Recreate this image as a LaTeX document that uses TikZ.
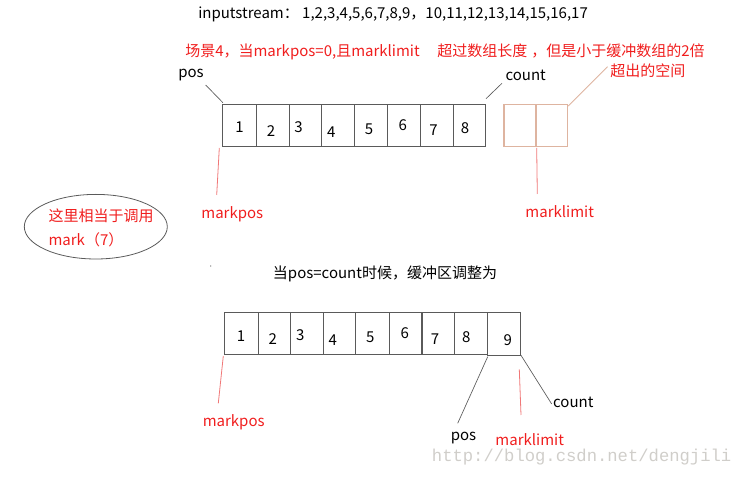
\documentclass[tikz,border=0pt]{standalone}
\usepackage{fontspec}
\setmainfont{Noto Sans CJK SC}
\newfontfamily\wmfont{Liberation Mono}
\definecolor{myred}{RGB}{240,30,30}
\definecolor{linered}{RGB}{240,120,120}
\definecolor{boxgray}{RGB}{90,90,90}
\definecolor{orangebox}{RGB}{222,180,160}
\definecolor{wmgray}{RGB}{208,206,202}
\begin{document}
\begin{tikzpicture}[x=0.75pt,y=-0.75pt,
  txt/.style={inner sep=0pt, text height=0.7em, text depth=0.2em, font=\fontsize{11.25}{13}\selectfont},
  redtxt/.style={txt, text=myred},
  num/.style={txt},
  cell/.style={draw=boxgray, line width=0.8pt},
  ocell/.style={draw=orangebox, line width=0.8pt},
  glink/.style={draw=boxgray, line width=0.5pt},
  rlink/.style={draw=linered, line width=0.6pt},
  olink/.style={draw=orangebox, line width=0.6pt}]
\useasboundingbox (0,0) rectangle (733,477);

% header
\node[txt, anchor=west] (head) at (198,15) {inputstream： 1,2,3,4,5,6,7,8,9，10,11,12,13,14,15,16,17};
\node[redtxt, anchor=west] (t1) at (185,53) {场景4，当markpos=0,且marklimit};
\node[redtxt, anchor=west] (t2) at (437,53) {超过数组长度};
\node[redtxt, anchor=west] (t3) at (531,53) {，但是小于缓冲数组的2倍};
\node[redtxt, anchor=west] (t4) at (610,73) {超出的空间};

% top array
\draw[cell] (222.9,104.5) rectangle (485.5,146.5);
\foreach \x in {256.4,289.3,321.4,354.3,387.9,420.7,453.2}
  \draw[cell] (\x,104.5) -- (\x,146.5);
\draw[ocell] (504,104.5) rectangle (567.3,146.5);
\draw[ocell] (536,104.5) -- (536,146.5);
\node[num] (a1) at (239.6,129) {1};
\node[num] (a2) at (271,132.7) {2};
\node[num] (a3) at (298.6,129) {3};
\node[num] (a4) at (331.4,134) {4};
\node[num] (a5) at (369,131) {5};
\node[num] (a6) at (402.9,126.7) {6};
\node[num] (a7) at (433.6,132) {7};
\node[num] (a8) at (465,130) {8};

\coordinate (tl) at (222.9,102.7);
\coordinate (tr) at (486,98.7);
\coordinate (otr) at (568.2,106);
\coordinate (mp1) at (219.3,148);
\coordinate (ml1) at (536.7,148);

\node[txt] (pos1) at (191,74) {pos};
\node[txt] (cnt1) at (525.7,77.3) {count};
\node[redtxt] (mpos1) at (232.3,215) {markpos};
\node[redtxt] (mlim1) at (559.7,214) {marklimit};

\draw[glink] (205.7,85) -- (tl);
\draw[glink] (502,83.3) -- (tr);
\draw[olink] (607.5,66.7) -- (otr);
\draw[rlink] (mp1) -- (216.7,195);
\draw[rlink] (ml1) -- (537.3,194);

% ellipse note
\draw[draw=boxgray, line width=0.6pt] (95.8,226.7) ellipse [x radius=71.5, y radius=32.3];
\node[redtxt, anchor=west] (e1) at (48.3,217.7) {这里相当于调用};
\node[redtxt, anchor=west] (e2) at (48.3,241.7) {mark（7）};

\fill[boxgray] (210.7,266) circle [radius=0.6];

% middle text
\node[txt, anchor=west] (mid) at (272.7,275) {当pos=count时候，缓冲区调整为};

% bottom array
\draw[cell] (224.3,312.3) rectangle (487.7,354.3);
\foreach \x in {258.3,290.3,323.3,355.7,389.3,422,454.3}
  \draw[cell] (\x,312.3) -- (\x,354.3);
\draw[cell] (487.7,312.3) rectangle (520.7,355.3);
\node[num] (b1) at (241,337.7) {1};
\node[num] (b2) at (272.7,341) {2};
\node[num] (b3) at (300.3,337.3) {3};
\node[num] (b4) at (332.7,341.7) {4};
\node[num] (b5) at (370.3,339) {5};
\node[num] (b6) at (404.7,335.3) {6};
\node[num] (b7) at (435,340.7) {7};
\node[num] (b8) at (466.3,339) {8};
\node[num] (b9) at (507.7,341.7) {9};

\coordinate (bl) at (223.3,356);
\coordinate (bp) at (487.7,356.7);
\coordinate (br) at (521,355.3);

\node[redtxt] (mpos2) at (233.7,423.3) {markpos};
\node[txt] (pos2) at (463.5,436.7) {pos};
\node[redtxt] (mlim2) at (529.7,441.7) {marklimit};
\node[txt] (cnt2) at (573.3,404.3) {count};

\draw[rlink] (bl) -- (218.3,403.3);
\draw[glink] (bp) -- (457.7,423.3);
\draw[rlink] (519.3,369.3) -- (521,415);
\draw[glink] (br) -- (551.7,404);

% watermark
\node[inner sep=0pt, anchor=west, text=wmgray, font=\wmfont\fontsize{12.9}{14}\selectfont] (wm) at (431.7,457) {http://blog.csdn.net/dengjili};
\end{tikzpicture}
\end{document}
